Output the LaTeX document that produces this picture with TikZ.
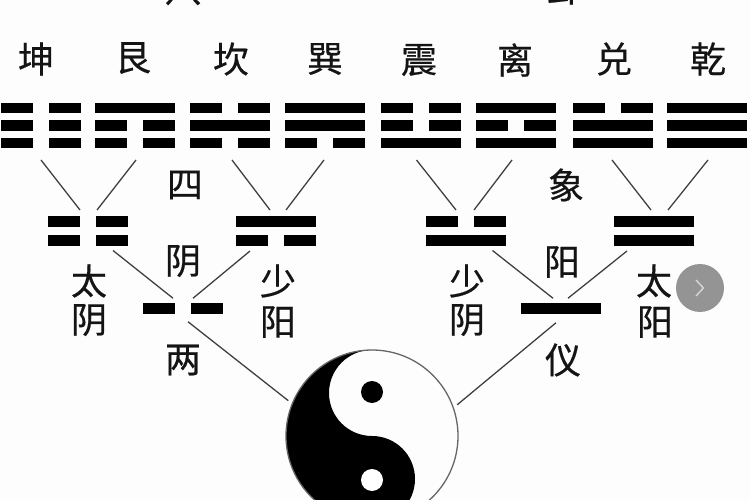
\documentclass[tikz,border=0pt]{standalone}
\usepackage{fontspec}
\newfontfamily\hanzi[FakeBold=0.5]{Noto Sans CJK SC}
\usetikzlibrary{calc}
\definecolor{inkline}{HTML}{404040}
\definecolor{paper}{HTML}{FDFDFD}
\tikzset{
  hz/.style={font=\hanzi\fontsize{36pt}{36pt}\selectfont, inner sep=0pt, text=black!92},
  figbox/.style={inner sep=0pt, outer sep=0pt, minimum width=80pt},
  hexbox/.style={figbox, minimum height=45pt},
  digbox/.style={figbox, minimum height=30pt},
  monobox/.style={figbox, minimum height=10.5pt},
  link/.style={draw=inkline, line width=1.3pt},
}
% one bar of a figure: centre x, top y, 1 = solid, 0 = broken
\newcommand{\yaobar}[3]{%
  \ifnum#3=1
    \fill ({#1-40},#2) rectangle ({#1+40},{#2+10.5});
  \else
    \fill ({#1-40},#2) rectangle ({#1-8},{#2+10.5});
    \fill ({#1+8},#2) rectangle ({#1+40},{#2+10.5});
  \fi}
% three-bar figure: name, centre x, bars from top to bottom
\newcommand{\hexfig}[5]{%
  \node[hexbox] (#1) at (#2,125.5) {};
  \yaobar{#2}{103}{#3}\yaobar{#2}{120.2}{#4}\yaobar{#2}{137.6}{#5}}
% two-bar figure: name, centre x, bars from top to bottom
\newcommand{\digfig}[4]{%
  \node[digbox] (#1) at (#2,231) {};
  \yaobar{#2}{216}{#3}\yaobar{#2}{235.4}{#4}}
\begin{document}
\begin{tikzpicture}[x=1pt,y=-1pt]
  \useasboundingbox (0,0) rectangle (750,500);
  \clip (0,0) rectangle (750,500);
  \fill[paper] (0,0) rectangle (750,500);

  % title characters, cut by the top edge
  \node[hz] (tl) at (183,-10) {八};
  \node[hz] (tr) at (565,-12) {卦};

  % the eight trigrams
  \node[hz] (n1) at (36,59) {坤};
  \node[hz] (n2) at (133,58) {艮};
  \node[hz] (n3) at (231,59) {坎};
  \node[hz] (n4) at (325,59) {巽};
  \node[hz] (n5) at (419,60) {震};
  \node[hz] (n6) at (515,60) {离};
  \node[hz] (n7) at (614,59) {兑};
  \node[hz] (n8) at (708,59) {乾};

  \hexfig{h1}{40.5}{0}{0}{0}
  \hexfig{h2}{135}{1}{0}{0}
  \hexfig{h3}{230}{0}{1}{0}
  \hexfig{h4}{325}{1}{1}{0}
  \hexfig{h5}{421}{0}{0}{1}
  \hexfig{h6}{516}{1}{0}{1}
  \hexfig{h7}{612.5}{0}{1}{1}
  \hexfig{h8}{707}{1}{1}{1}

  % the four images
  \digfig{d1}{88}{0}{0}
  \digfig{d2}{276}{1}{0}
  \digfig{d3}{465.5}{0}{1}
  \digfig{d4}{654}{1}{1}

  % the two modes
  \node[monobox] (m1) at (183,308.5) {};
  \yaobar{183}{303.3}{0}
  \node[monobox] (m2) at (560.5,308.5) {};
  \yaobar{560.5}{303.3}{1}

  % labels
  \node[hz] (si)   at (185,185) {四};
  \node[hz] (xiang) at (566,185) {象};
  \node[hz] (yin)  at (183,261) {阴};
  \node[hz] (yang) at (562,262) {阳};
  \node[hz] (a1) at (89,281) {太};
  \node[hz] (a2) at (89,320) {阴};
  \node[hz] (b1) at (278,281) {少};
  \node[hz] (b2) at (278,322) {阳};
  \node[hz] (c1) at (467,281) {少};
  \node[hz] (c2) at (467,320) {阴};
  \node[hz] (e1) at (654,281) {太};
  \node[hz] (e2) at (655,322) {阳};
  \node[hz] (liang) at (183,360) {两};
  \node[hz] (yi)    at (563,360) {仪};

  % connectors: trigrams to images
  \draw[link] ([shift={(0.5pt,-12pt)}]h1.south) -- ([shift={(-8pt,6pt)}]d1.north);
  \draw[link] ([shift={(1pt,-12pt)}]h2.south) -- ([shift={(9pt,6pt)}]d1.north);
  \draw[link] ([shift={(2pt,-12pt)}]h3.south) -- ([shift={(-6pt,6pt)}]d2.north);
  \draw[link] ([shift={(-1pt,-12pt)}]h4.south) -- ([shift={(10pt,6pt)}]d2.north);
  \draw[link] ([shift={(-4.5pt,-12pt)}]h5.south) -- ([shift={(-9.5pt,6pt)}]d3.north);
  \draw[link] ([shift={(-4pt,-12pt)}]h6.south) -- ([shift={(8.5pt,6pt)}]d3.north);
  \draw[link] ([shift={(-0.5pt,-12pt)}]h7.south) -- ([shift={(-3pt,6pt)}]d4.north);
  \draw[link] ([shift={(1pt,-12pt)}]h8.south) -- ([shift={(14pt,6pt)}]d4.north);

  % connectors: images to modes
  \draw[link] ([shift={(25pt,-4.5pt)}]d1.south) -- ([shift={(-10pt,5pt)}]m1.north);
  \draw[link] ([shift={(-26pt,-5pt)}]d2.south) -- ([shift={(10pt,5pt)}]m1.north);
  \draw[link] ([shift={(27pt,-4.5pt)}]d3.south) -- ([shift={(-7.5pt,5pt)}]m2.north);
  \draw[link] ([shift={(-27pt,-5pt)}]d4.south) -- ([shift={(7.5pt,5pt)}]m2.north);

  % the supreme ultimate
  \node[circle, inner sep=0pt, outer sep=0pt, minimum size=172pt] (taiji) at (372,436) {};
  \fill[black] (taiji.north)
    arc[start angle=90, end angle=270, radius=86pt]
    arc[start angle=270, end angle=450, radius=43pt]
    arc[start angle=270, end angle=90, radius=43pt] -- cycle;
  \draw[draw=black!60, line width=1.3pt] (taiji) circle[radius=86pt];
  \node[circle, fill=black, inner sep=0pt, minimum size=22pt] (dotup) at (372,392) {};
  \node[circle, fill=white, inner sep=0pt, minimum size=22pt] (dotdn) at (372,480) {};

  % connectors: modes to the supreme ultimate
  \draw[link, shorten >=5pt] ([shift={(5pt,-8pt)}]m1.south) -- (taiji.158);
  \draw[link, shorten >=5pt] ([shift={(-4.5pt,-9pt)}]m2.south) -- (taiji.19);

  % round grey arrow button
  \node[circle, fill=black!42, inner sep=0pt, minimum size=48pt] (btn) at (700,288) {};
  \draw[draw=white!85!black, line width=1.3pt] ([shift={(-4pt,8pt)}]btn.center) -- ([shift={(3.5pt,0pt)}]btn.center) -- ([shift={(-4pt,-8pt)}]btn.center);
\end{tikzpicture}
\end{document}
